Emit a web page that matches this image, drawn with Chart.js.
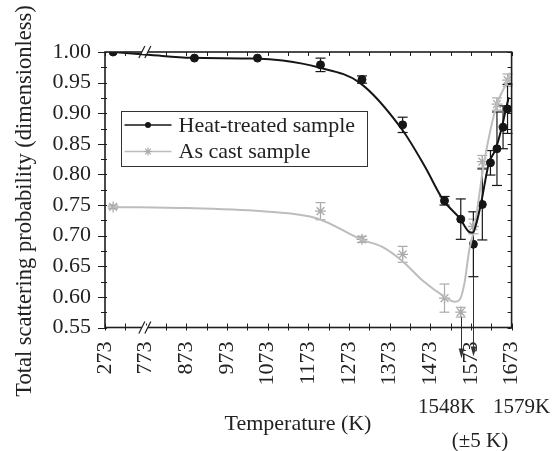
<!DOCTYPE html>
<html><head><meta charset="utf-8">
<script src="https://cdn.jsdelivr.net/npm/chart.js@4.4.1/dist/chart.umd.min.js"></script>
<style>html,body{margin:0;padding:0;background:#fff;} #wrap{width:552px;height:451px;position:relative;}</style>
</head><body><div id="wrap"><canvas id="c" width="552" height="451" style="width:552px;height:451px;"></canvas></div>
<script>
// ---- data ----
const tickLabels = ['273','773','873','973','1073','1173','1273','1373','1473','1573','1673'];
const yTickValues = [0.55,0.60,0.65,0.70,0.75,0.80,0.85,0.90,0.95,1.00];
const heatTemps  = [293, 893, 1048, 1203, 1305, 1405, 1508, 1548, 1579, 1601, 1621, 1637, 1652, 1663];
const heatValues = [1.000, 0.990, 0.990, 0.979, 0.955, 0.881, 0.757, 0.727, 0.686, 0.751, 0.819, 0.842, 0.877, 0.907];
const heatErrors = [0, 0, 0, 0.011, 0.006, 0.0125, 0.007, 0.033, 0.053, 0.058, 0.02, 0.06, 0.035, 0.04];
const castTemps  = [293, 1203, 1305, 1405, 1508, 1548, 1579, 1601, 1637, 1663];
const castValues = [0.747, 0.740, 0.694, 0.6695, 0.598, 0.575, 0.715, 0.821, 0.915, 0.954];
const castErrors = [0.003, 0.014, 0.005, 0.013, 0.023, 0.008, 0.012, 0.01, 0.01, 0.01];
const heatCurveTemps  = [293, 786, 886, 1043, 1110, 1197, 1299, 1404, 1460, 1505, 1546, 1569, 1578, 1585, 1597, 1617, 1633, 1649, 1659, 1666];
const heatCurveValues = [1.000, 0.995, 0.9905, 0.9894, 0.986, 0.975, 0.950, 0.873, 0.8126, 0.758, 0.728, 0.706, 0.705, 0.717, 0.75, 0.818, 0.84, 0.877, 0.907, 0.926];
const castCurveTemps  = [293, 876, 1075, 1195, 1306, 1354, 1406, 1457, 1509, 1533, 1545, 1557, 1569, 1582, 1593, 1605, 1637, 1663, 1668];
const castCurveValues = [0.747, 0.745, 0.739, 0.728, 0.693, 0.682, 0.6575, 0.625, 0.600, 0.592, 0.595, 0.622, 0.677, 0.714, 0.764, 0.818, 0.915, 0.954, 0.966];
const arrowTemps = [1548, 1579];
const arrowLabels = ['1548K', '1579K'];
const seriesNames = ['Heat-treated sample', 'As cast sample'];

// broken axis: 273 segment, then 100 K per unit from 773
function tempToAxis(T){ return T < 773 ? (T - 273) / 100 : (T - 673) / 100; }
const pts = (ts, vs) => ts.map((t, i) => ({x: tempToAxis(t), y: vs[i]}));

const FONT = "'Liberation Serif', 'Times New Roman', serif";
const TXT = '#222';
const BLACK = '#161616';
const GRAY = '#ababab';
const GRAYLINE = '#bdbdbd';

function line(ctx, x1, y1, x2, y2){ ctx.beginPath(); ctx.moveTo(x1, y1); ctx.lineTo(x2, y2); ctx.stroke(); }

const deco = {
  id: 'deco',
  beforeDatasetsDraw(chart){
    const ctx = chart.ctx, xs = chart.scales.x, ys = chart.scales.y;
    ctx.save();
    ctx.lineWidth = 1.2;
    const bars = (ts, vs, es, col) => {
      ctx.strokeStyle = col;
      ts.forEach((t, i) => {
        if (!es[i]) return;
        const x = xs.getPixelForValue(tempToAxis(t));
        const y1 = ys.getPixelForValue(vs[i] + es[i]);
        const y2 = ys.getPixelForValue(vs[i] - es[i]);
        line(ctx, x, y1, x, y2);
        line(ctx, x - 5, y1, x + 5, y1);
        line(ctx, x - 5, y2, x + 5, y2);
      });
    };
    bars(castTemps, castValues, castErrors, GRAY);
    bars(heatTemps, heatValues, heatErrors, BLACK);
    // arrows
    ctx.strokeStyle = '#333'; ctx.fillStyle = '#333'; ctx.lineWidth = 1;
    const ca = castTemps.indexOf(arrowTemps[0]);
    const ha = heatTemps.indexOf(arrowTemps[1]);
    const starts = [castValues[ca] - castErrors[ca], heatValues[ha] - heatErrors[ha]];
    const ends = [chart.chartArea.bottom + 31, chart.chartArea.bottom + 29];
    arrowTemps.forEach((t, i) => {
      const x = Math.round(xs.getPixelForValue(tempToAxis(t))) + 0.5;
      const y0 = ys.getPixelForValue(starts[i]);
      const y1 = ends[i];
      line(ctx, x, y0, x, y1 - 6);
      ctx.beginPath(); ctx.moveTo(x - 2.8, y1 - 10); ctx.lineTo(x + 2.8, y1 - 10); ctx.lineTo(x, y1); ctx.closePath(); ctx.fill();
    });
    ctx.restore();
  },
  afterDraw(chart){
    const ctx = chart.ctx, xs = chart.scales.x, ys = chart.scales.y;
    const {left, right, top, bottom} = chart.chartArea;
    ctx.save();
    ctx.strokeStyle = '#1e1e1e';
    ctx.lineWidth = 1;
    for (let u = 0; u <= 10.001; u += 0.5) {
      const x = Math.round(xs.getPixelForValue(u)) + 0.5;
      line(ctx, x, bottom - 4, x, bottom + 3);
      line(ctx, x, top, x, top + 4);
    }
    for (let k = 0; k <= 18; k++) {
      const v = 0.55 + k * 0.025;
      const y = Math.round(ys.getPixelForValue(v)) + 0.5;
      const major = k % 2 === 0;
      line(ctx, left - (major ? 7 : 4), y, left + 2, y);
      line(ctx, right - 4, y, right, y);
    }
    ctx.lineWidth = 1.6;
    ctx.strokeRect(left, top, right - left, bottom - top);
    const bx = xs.getPixelForValue(0.98);
    [top, bottom].forEach(y => {
      ctx.fillStyle = '#fff';
      ctx.fillRect(bx - 3, y - 2, 6, 4);
      ctx.lineWidth = 1.2;
      [-3, 3].forEach(d => line(ctx, bx + d - 3, y + 6, bx + d + 3, y - 6));
    });
    ctx.fillStyle = TXT;
    ctx.textAlign = 'center'; ctx.textBaseline = 'middle';
    ctx.font = '22px ' + FONT;
    ctx.fillText('Temperature (K)', 298, 424);
    ctx.font = '21px ' + FONT;
    ctx.fillText(arrowLabels[0], 446.5, 407);
    ctx.fillText(arrowLabels[1], 521.5, 407);
    ctx.fillText('(\u00B15 K)', 480, 441);
    ctx.font = '22.5px ' + FONT;
    ctx.save();
    ctx.translate(25, 201); ctx.rotate(-Math.PI / 2);
    ctx.fillText('Total scattering probability (dimensionless)', 0, 0);
    ctx.restore();
    // legend
    ctx.font = '22px ' + FONT;
    const lx = 121.5, ly = 111.5, lw = 246, lh = 55;
    ctx.lineWidth = 1; ctx.strokeStyle = '#333';
    ctx.fillStyle = '#fff'; ctx.fillRect(lx, ly, lw, lh);
    ctx.strokeRect(lx, ly, lw, lh);
    const items = [{y: ly + 13.5, lc: BLACK}, {y: ly + 40, lc: GRAYLINE}];
    items.forEach((it, i) => {
      ctx.strokeStyle = it.lc; ctx.lineWidth = 1.6;
      line(ctx, lx + 3, it.y, lx + 50, it.y);
      if (i === 0) { ctx.fillStyle = BLACK; ctx.beginPath(); ctx.arc(lx + 26.5, it.y, 3, 0, Math.PI * 2); ctx.fill(); }
      else { ctx.strokeStyle = GRAY; ctx.lineWidth = 1.2; Chart.helpers.drawPoint(ctx, {pointStyle: 'star', radius: 4, borderWidth: 1.2, rotation: 0}, lx + 26.5, it.y); }
      ctx.fillStyle = TXT; ctx.textAlign = 'left';
      ctx.fillText(seriesNames[i], lx + 57, it.y + 1);
    });
    ctx.restore();
  }
};

new Chart(document.getElementById('c'), {
  type: 'scatter',
  data: {
    datasets: [
      {label: 'heat curve', data: pts(heatCurveTemps, heatCurveValues), showLine: true, borderColor: BLACK, borderWidth: 2, pointRadius: 0, cubicInterpolationMode: 'monotone'},
      {label: 'cast curve', data: pts(castCurveTemps, castCurveValues), showLine: true, borderColor: GRAYLINE, borderWidth: 2, pointRadius: 0, cubicInterpolationMode: 'monotone'},
      {label: seriesNames[0], data: pts(heatTemps, heatValues), showLine: false, pointStyle: 'circle', pointRadius: 4, backgroundColor: BLACK, borderColor: BLACK, borderWidth: 1},
      {label: seriesNames[1], data: pts(castTemps, castValues), showLine: false, pointStyle: 'star', pointRadius: 5.5, borderColor: GRAY, backgroundColor: GRAY, borderWidth: 1.3}
    ]
  },
  options: {
    responsive: false, animation: false, devicePixelRatio: 1,
    layout: {padding: {top: 52, right: 28.5, left: 0, bottom: 0}},
    plugins: {legend: {display: false}, tooltip: {enabled: false}},
    scales: {
      x: {
        type: 'linear', min: 0, max: 10,
        grid: {display: false, drawTicks: false}, border: {display: false},
        afterBuildTicks: s => { s.ticks = tickLabels.map((l, i) => ({value: i})); },
        afterFit: s => { s.height = 123.5; },
        ticks: {autoSkip: false, minRotation: 90, maxRotation: 90, padding: 14, color: TXT,
          font: {family: FONT, size: 22}, callback: (v, i) => tickLabels[i]}
      },
      y: {
        min: 0.55, max: 1.0,
        grid: {display: false, drawTicks: false}, border: {display: false},
        afterBuildTicks: s => { s.ticks = yTickValues.map(v => ({value: v})); },
        afterFit: s => { s.width = 105; },
        ticks: {padding: 14, color: TXT, font: {family: FONT, size: 22}, callback: v => v.toFixed(2)}
      }
    }
  },
  plugins: [deco]
});
</script></body></html>
